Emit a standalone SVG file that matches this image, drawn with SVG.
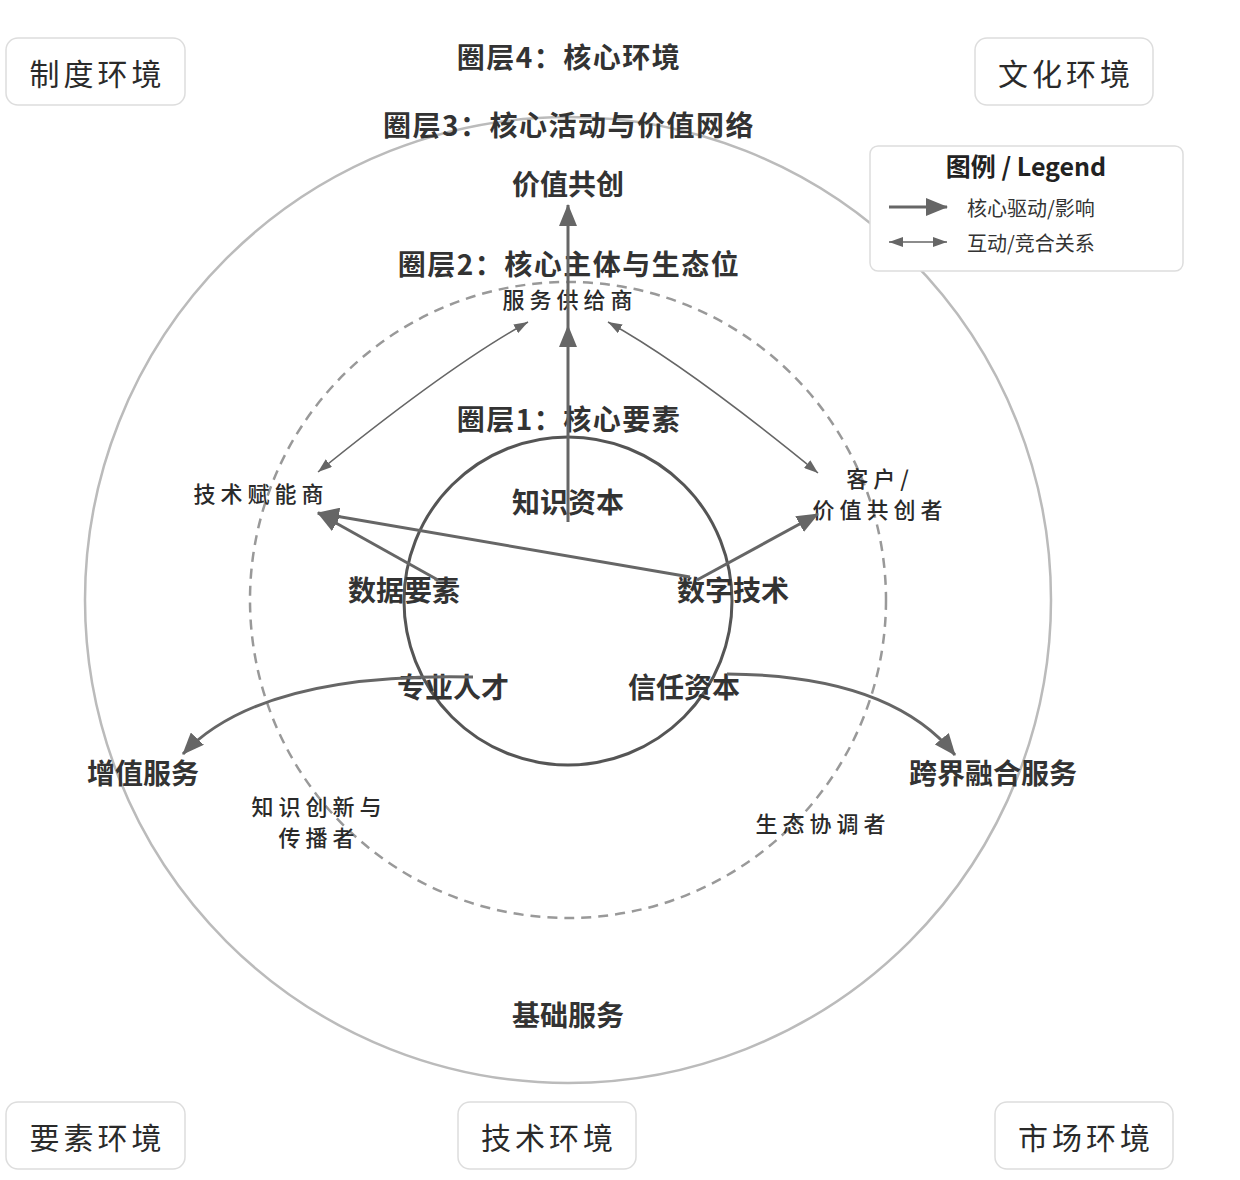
<svg xmlns="http://www.w3.org/2000/svg" width="1240" height="1180" viewBox="0 0 1240 1180">
<style>
  .bg { fill: #ffffff; }
  .env rect { fill: #ffffff; stroke: #dddddd; stroke-width: 1.5; }
  .env text { font-family: "Noto Sans CJK SC", "Noto Sans", sans-serif; font-size: 30px; fill: #2a2a2a; letter-spacing: 4px; text-anchor: middle; dominant-baseline: central; }
  .title { font-family: "Noto Sans CJK SC", "Noto Sans", sans-serif; font-size: 28px; font-weight: 700; fill: #333333; letter-spacing: 1.5px; text-anchor: middle; dominant-baseline: central; }
  .lbl { font-family: "Noto Sans CJK SC", "Noto Sans", sans-serif; font-size: 28px; font-weight: 700; fill: #333333; text-anchor: middle; dominant-baseline: central; }
  .role { font-family: "Noto Sans CJK SC", "Noto Sans", sans-serif; font-size: 22px; font-weight: 500; fill: #2a2a2a; letter-spacing: 5px; text-anchor: middle; dominant-baseline: central; }
  .ring3 { fill: none; stroke: #bbbbbb; stroke-width: 2.5; }
  .ring2 { fill: none; stroke: #999999; stroke-width: 2.5; stroke-dasharray: 10 7; }
  .ring1 { fill: none; stroke: #555555; stroke-width: 3; }
  .drive { fill: none; stroke: #666666; stroke-width: 3; marker-end: url(#ah); }
  .inter { fill: none; stroke: #666666; stroke-width: 1.5; marker-start: url(#ahs); marker-end: url(#ahs); }
  .legbox { fill: #ffffff; stroke: #dddddd; stroke-width: 1.5; }
  .legtitle { font-family: "Noto Sans CJK SC", "Noto Sans", sans-serif; font-size: 25px; font-weight: 700; fill: #222222; text-anchor: middle; dominant-baseline: central; }
  .legtext { font-family: "Noto Sans CJK SC", "Noto Sans", sans-serif; font-size: 20px; fill: #333333; dominant-baseline: central; }
</style>
<defs>
  <marker id="ah" markerUnits="userSpaceOnUse" markerWidth="22" markerHeight="18" refX="21" refY="9" orient="auto">
    <path d="M0,0 L22,9 L0,18 Z" fill="#666666"/>
  </marker>
  <marker id="ahs" markerUnits="userSpaceOnUse" markerWidth="14" markerHeight="10" refX="14" refY="5" orient="auto-start-reverse">
    <path d="M0,0 L14,5 L0,10 Z" fill="#666666"/>
  </marker>
</defs>
<rect class="bg" x="0" y="0" width="1240" height="1180"/>

<g id="layer3">
  <circle class="ring3" cx="568" cy="600" r="483"/>
</g>
<g id="layer2">
  <circle class="ring2" cx="568" cy="600" r="318"/>
</g>
<g id="layer1">
  <circle class="ring1" cx="568" cy="601" r="164"/>
</g>

<g id="env-institution" class="env">
  <rect x="6" y="38" width="179" height="67" rx="12"/>
  <text x="97.5" y="71.5">制度环境</text>
</g>
<g id="env-culture" class="env">
  <rect x="975" y="38" width="178" height="67" rx="12"/>
  <text x="1066" y="71.5">文化环境</text>
</g>
<g id="env-factor" class="env">
  <rect x="6" y="1102" width="179" height="67" rx="12"/>
  <text x="97.5" y="1135.5">要素环境</text>
</g>
<g id="env-tech" class="env">
  <rect x="458" y="1102" width="178" height="67" rx="12"/>
  <text x="549" y="1135.5">技术环境</text>
</g>
<g id="env-market" class="env">
  <rect x="995" y="1102" width="178" height="67" rx="12"/>
  <text x="1086" y="1135.5">市场环境</text>
</g>

<g id="titles">
  <text class="title" x="569" y="56">圈层4：核心环境</text>
  <text class="title" x="569" y="124">圈层3：核心活动与价值网络</text>
  <text class="title" x="569" y="263">圈层2：核心主体与生态位</text>
  <text class="title" x="569" y="418">圈层1：核心要素</text>
</g>

<g id="node-value-cocreation"><text class="lbl" x="568" y="183">价值共创</text></g>
<g id="node-service-provider"><text class="role" x="570" y="298">服务供给商</text></g>
<g id="node-tech-enabler"><text class="role" x="261" y="492">技术赋能商</text></g>
<g id="node-customer">
  <text class="role" x="880" y="477">客户/</text>
  <text class="role" x="880" y="508">价值共创者</text>
</g>
<g id="node-knowledge-capital"><text class="lbl" x="568" y="501">知识资本</text></g>
<g id="node-data"><text class="lbl" x="404" y="589">数据要素</text></g>
<g id="node-digital-tech"><text class="lbl" x="733" y="589">数字技术</text></g>
<g id="node-talent"><text class="lbl" x="453" y="686">专业人才</text></g>
<g id="node-trust"><text class="lbl" x="684" y="686">信任资本</text></g>
<g id="node-value-added"><text class="lbl" x="143" y="772">增值服务</text></g>
<g id="node-crossover"><text class="lbl" x="993" y="772">跨界融合服务</text></g>
<g id="node-knowledge-innovator">
  <text class="role" x="319" y="805">知识创新与</text>
  <text class="role" x="319" y="836">传播者</text>
</g>
<g id="node-coordinator"><text class="role" x="823" y="822">生态协调者</text></g>
<g id="node-basic-service"><text class="lbl" x="568" y="1014">基础服务</text></g>

<g id="connectors">
  <line class="drive" x1="568" y1="522" x2="568" y2="326"/>
  <line class="drive" x1="568" y1="326" x2="568" y2="205"/>
  <path class="inter" d="M528,322 Q450,365 318,472"/>
  <path class="inter" d="M608,322 Q686,365 818,473"/>
  <line class="drive" x1="438" y1="580" x2="318" y2="513"/>
  <line class="drive" x1="690" y1="577" x2="318" y2="513"/>
  <line class="drive" x1="697" y1="580" x2="818" y2="514"/>
  <path class="drive" d="M473,677 Q260,672 183,754"/>
  <path class="drive" d="M727,674 Q890,675 955,755"/>
</g>

<g id="legend">
  <rect class="legbox" x="870" y="146" width="313" height="125" rx="8"/>
  <text class="legtitle" x="1026" y="165">图例 / Legend</text>
  <line x1="889" y1="207" x2="947" y2="207" stroke="#666666" stroke-width="3" marker-end="url(#ah)"/>
  <text class="legtext" x="967" y="207">核心驱动/影响</text>
  <line x1="889" y1="242" x2="947" y2="242" stroke="#666666" stroke-width="1.5" marker-start="url(#ahs)" marker-end="url(#ahs)"/>
  <text class="legtext" x="967" y="242">互动/竞合关系</text>
</g>
</svg>
